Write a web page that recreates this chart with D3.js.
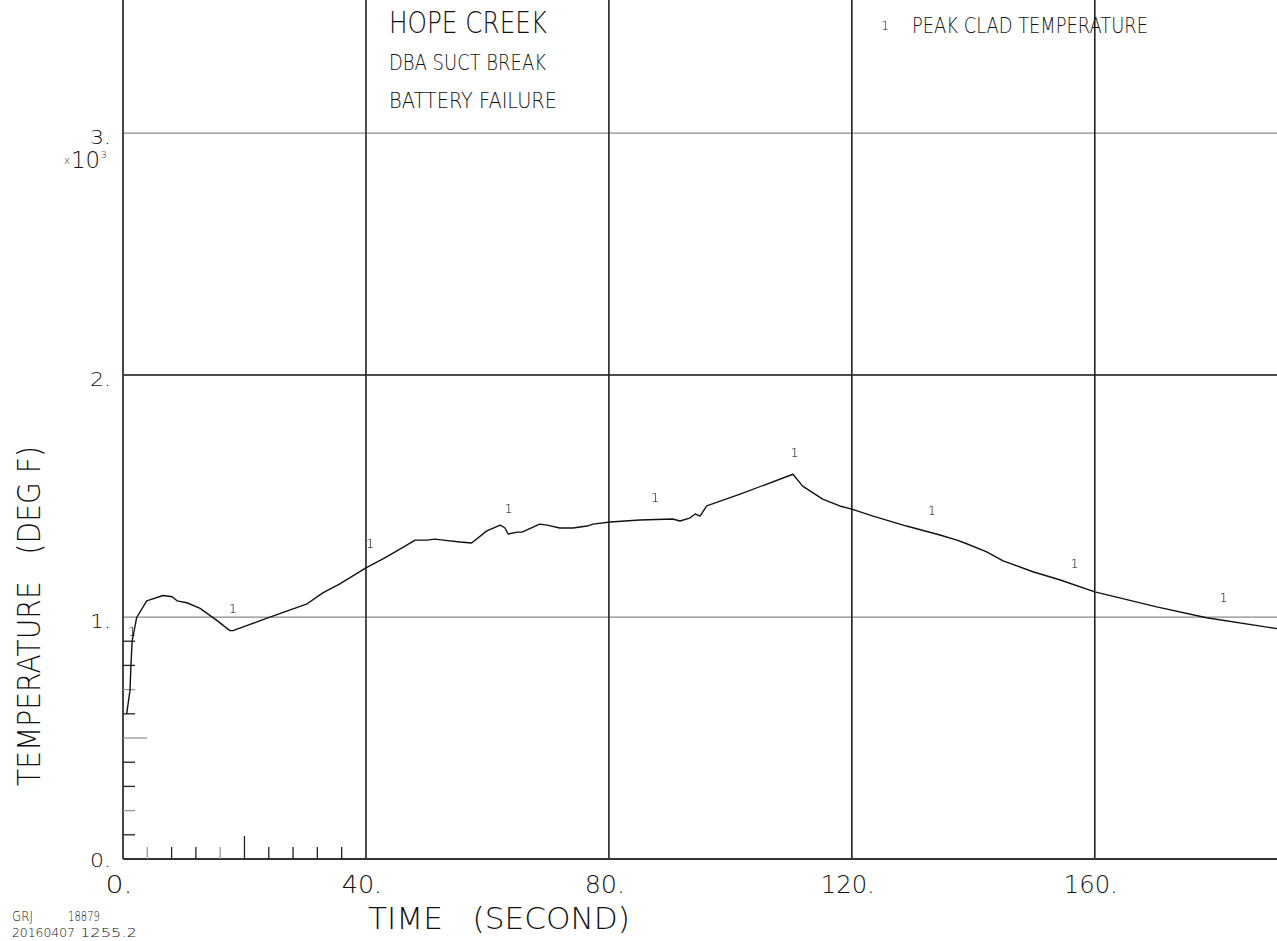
<!DOCTYPE html>
<html>
<head>
<meta charset="utf-8">
<script src="https://cdn.jsdelivr.net/npm/d3@7/dist/d3.min.js"></script>
<style>
  html, body { margin: 0; padding: 0; background: #fff; }
  svg { display: block; }
  text { font-family: "DejaVu Sans ExtraLight", "DejaVu Sans", sans-serif; font-weight: 200; fill: #111; white-space: pre; }
  .sym { filter: grayscale(1); }
</style>
</head>
<body>
<svg id="chart" width="1277" height="941"></svg>
<script>
// Peak clad temperature history (time in s, temperature in deg F)
const timeSec = [0.6, 1.15, 1.3, 1.5, 2.25, 3.9, 6.6, 8.1, 8.9, 10.5, 12.7, 15.5, 17.6, 18.1, 22.6, 25.8, 30.2, 32.9, 35.7,
  40.0, 42.8, 45.1, 48.1, 50.0, 51.4, 52.7, 55.5, 57.4, 59.9, 62.1, 62.9, 63.4, 64.9, 65.7, 68.6, 69.8, 71.9, 74.1,
  76.4, 77.4, 80.2, 85.1, 90.5, 91.7, 93.3, 94.2, 95.0, 96.1, 101.6, 110.3, 111.9, 115.2, 118.0, 120.0, 123.5, 129.0,
  134.5, 137.3, 138.6, 142.2, 144.9, 149.8, 154.2, 160.0, 170.2, 178.4, 190.0];
const cladTemp = [600, 696, 795, 900, 998, 1067, 1089, 1084, 1067, 1059, 1036, 985, 944, 944, 985, 1014, 1053, 1100, 1137,
  1203, 1240, 1273, 1318, 1318, 1322, 1318, 1310, 1306, 1356, 1380, 1368, 1343, 1351, 1351, 1384, 1380, 1368, 1368,
  1376, 1384, 1393, 1401, 1405, 1397, 1409, 1426, 1417, 1459, 1508, 1590, 1541, 1487, 1459, 1446, 1417, 1376,
  1339, 1318, 1306, 1269, 1232, 1187, 1154, 1104, 1042, 997, 952];

// Curve symbol "1" positions
const markTime = [1.5, 18.1, 40.7, 63.5, 87.6, 110.6, 133.2, 156.7, 181.2];
const markTemp = [944, 1038, 1306, 1450, 1496, 1681, 1442, 1224, 1084];

// Axis ticks
const xMajor = [0, 40, 80, 120, 160];
const xMajorLabels = ["0.", "40.", "80.", "120.", "160."];
const yMajor = [0, 1000, 2000, 3000];
const yMajorLabels = ["0.", "1.", "2.", "3."];
const xMinor = [4, 8, 12, 16, 20, 24, 28, 32, 36];
const yMinor = [100, 200, 300, 400, 500, 600, 700, 800, 900];

const titleLines = ["HOPE CREEK", "DBA SUCT BREAK", "BATTERY FAILURE"];
const legendLabel = "PEAK CLAD TEMPERATURE";
const xTitle = "TIME   (SECOND)";
const yTitle = "TEMPERATURE   (DEG F)";
const footer = [["GRJ", "18879"], ["20160407", "1255.2"]];

const svg = d3.select("#chart");
const plotLeft = 123, plotRight = 1277, plotBottom = 859, plotTop = 0;

const x = d3.scaleLinear().domain([0, 190]).range([plotLeft, plotRight]);
const y = d3.scaleLinear().domain([0, 3550]).range([plotBottom, plotTop]);

// horizontal grid lines
svg.append("g").selectAll("line").data(yMajor.filter(d => d > 0)).join("line")
  .attr("x1", plotLeft).attr("x2", plotRight)
  .attr("y1", d => y(d)).attr("y2", d => y(d))
  .attr("stroke", d => d === 2000 ? "#111" : "#8a8a8a")
  .attr("stroke-width", d => d === 2000 ? 1.4 : 1.2);

// vertical grid lines
svg.append("g").selectAll("line").data(xMajor.filter(d => d > 0)).join("line")
  .attr("x1", d => x(d)).attr("x2", d => x(d))
  .attr("y1", plotTop).attr("y2", plotBottom)
  .attr("stroke", "#222").attr("stroke-width", 1.6);

// frame axes
svg.append("line").attr("x1", plotLeft).attr("x2", plotLeft).attr("y1", plotTop).attr("y2", plotBottom)
  .attr("stroke", "#333").attr("stroke-width", 1.8);
svg.append("line").attr("x1", plotLeft).attr("x2", plotRight).attr("y1", plotBottom).attr("y2", plotBottom)
  .attr("stroke", "#333").attr("stroke-width", 1.8);

// minor ticks
const grayY = new Set([200, 500, 700]);
svg.append("g").selectAll("line").data(yMinor).join("line")
  .attr("x1", plotLeft).attr("x2", d => plotLeft + (d === 500 ? 24 : 12))
  .attr("y1", d => y(d)).attr("y2", d => y(d))
  .attr("stroke", d => grayY.has(d) ? "#999" : "#222").attr("stroke-width", 1.3);
const grayX = new Set([4, 16]);
svg.append("g").selectAll("line").data(xMinor).join("line")
  .attr("x1", d => x(d)).attr("x2", d => x(d))
  .attr("y1", plotBottom).attr("y2", d => plotBottom - (d === 20 ? 23 : 12))
  .attr("stroke", d => grayX.has(d) ? "#999" : "#222").attr("stroke-width", 1.3);

// tick labels
svg.append("g").selectAll("text").data(xMajor).join("text")
  .attr("x", d => x(d) - 4).attr("y", 893)
  .attr("text-anchor", "middle")
  .attr("font-size", 25)
  .attr("textLength", (d, i) => xMajorLabels[i].length * 13.5)
  .attr("lengthAdjust", "spacingAndGlyphs")
  .text((d, i) => xMajorLabels[i]);

svg.append("g").selectAll("text").data(yMajor).join("text")
  .attr("x", 111).attr("y", d => y(d) + (d === 0 ? 8 : 11))
  .attr("text-anchor", "end")
  .attr("font-size", 20)
  .attr("textLength", 21)
  .attr("lengthAdjust", "spacingAndGlyphs")
  .text((d, i) => yMajorLabels[i]);

// scale factor x10^3
const sf = svg.append("g");
sf.append("text").attr("x", 64).attr("y", 164).attr("font-size", 10).text("x");
sf.append("text").attr("x", 71).attr("y", 168).attr("font-size", 23)
  .attr("textLength", 29).attr("lengthAdjust", "spacingAndGlyphs").text("10");
sf.append("text").attr("x", 101).attr("y", 158).attr("font-size", 9).text("3");

// curve
const pts = timeSec.map((t, i) => [t, cladTemp[i]]);
svg.append("path").datum(pts)
  .attr("fill", "none").attr("stroke", "#111").attr("stroke-width", 1.4)
  .attr("stroke-linejoin", "round")
  .attr("d", d3.line().x(d => x(d[0])).y(d => y(d[1])));

// curve symbols
svg.append("g").attr("class", "sym").selectAll("text").data(markTime).join("text")
  .attr("x", d => x(d)).attr("y", (d, i) => y(markTemp[i]) + 5)
  .attr("text-anchor", "middle")
  .attr("font-family", "Liberation Serif, serif").attr("font-weight", 400)
  .attr("font-size", 13)
  .style("fill", "#000")
  .text("1");

// titles
const tl = svg.append("g");
tl.append("text").attr("x", 389).attr("y", 33).attr("font-size", 30)
  .attr("textLength", 158).attr("lengthAdjust", "spacingAndGlyphs").text(titleLines[0]);
tl.append("text").attr("x", 389).attr("y", 70).attr("font-size", 21)
  .attr("textLength", 157).attr("lengthAdjust", "spacingAndGlyphs").text(titleLines[1]);
tl.append("text").attr("x", 389).attr("y", 108).attr("font-size", 21)
  .attr("textLength", 168).attr("lengthAdjust", "spacingAndGlyphs").text(titleLines[2]);

// legend
svg.append("g").attr("class", "sym").append("text").attr("x", 885).attr("y", 30).attr("text-anchor", "middle")
  .attr("font-family", "Liberation Serif, serif").attr("font-weight", 400)
  .attr("font-size", 12)
  .style("fill", "#000").text("1");
svg.append("text").attr("x", 912).attr("y", 33).attr("font-size", 21)
  .attr("textLength", 236).attr("lengthAdjust", "spacingAndGlyphs").text(legendLabel);

// axis titles
svg.append("text").attr("x", 368).attr("y", 929).attr("font-size", 31)
  .attr("textLength", 262).attr("lengthAdjust", "spacingAndGlyphs").text(xTitle);
svg.append("text").attr("transform", "translate(40,786) rotate(-90)")
  .attr("font-size", 32)
  .attr("textLength", 340).attr("lengthAdjust", "spacingAndGlyphs").text(yTitle);

// footer
const ft = svg.append("g");
ft.append("text").attr("x", 12).attr("y", 921).attr("font-weight", 400).attr("font-size", 14)
  .attr("textLength", 21).attr("lengthAdjust", "spacingAndGlyphs").text(footer[0][0]);
ft.append("text").attr("x", 68).attr("y", 921).attr("font-weight", 400).attr("font-size", 14)
  .attr("textLength", 32).attr("lengthAdjust", "spacingAndGlyphs").text(footer[0][1]);
ft.append("text").attr("x", 12).attr("y", 937).attr("font-weight", 400).attr("font-size", 13)
  .attr("textLength", 63).attr("lengthAdjust", "spacingAndGlyphs").text(footer[1][0]);
ft.append("text").attr("x", 80).attr("y", 937).attr("font-weight", 400).attr("font-size", 13)
  .attr("textLength", 57).attr("lengthAdjust", "spacingAndGlyphs").text(footer[1][1]);
</script>
</body>
</html>
